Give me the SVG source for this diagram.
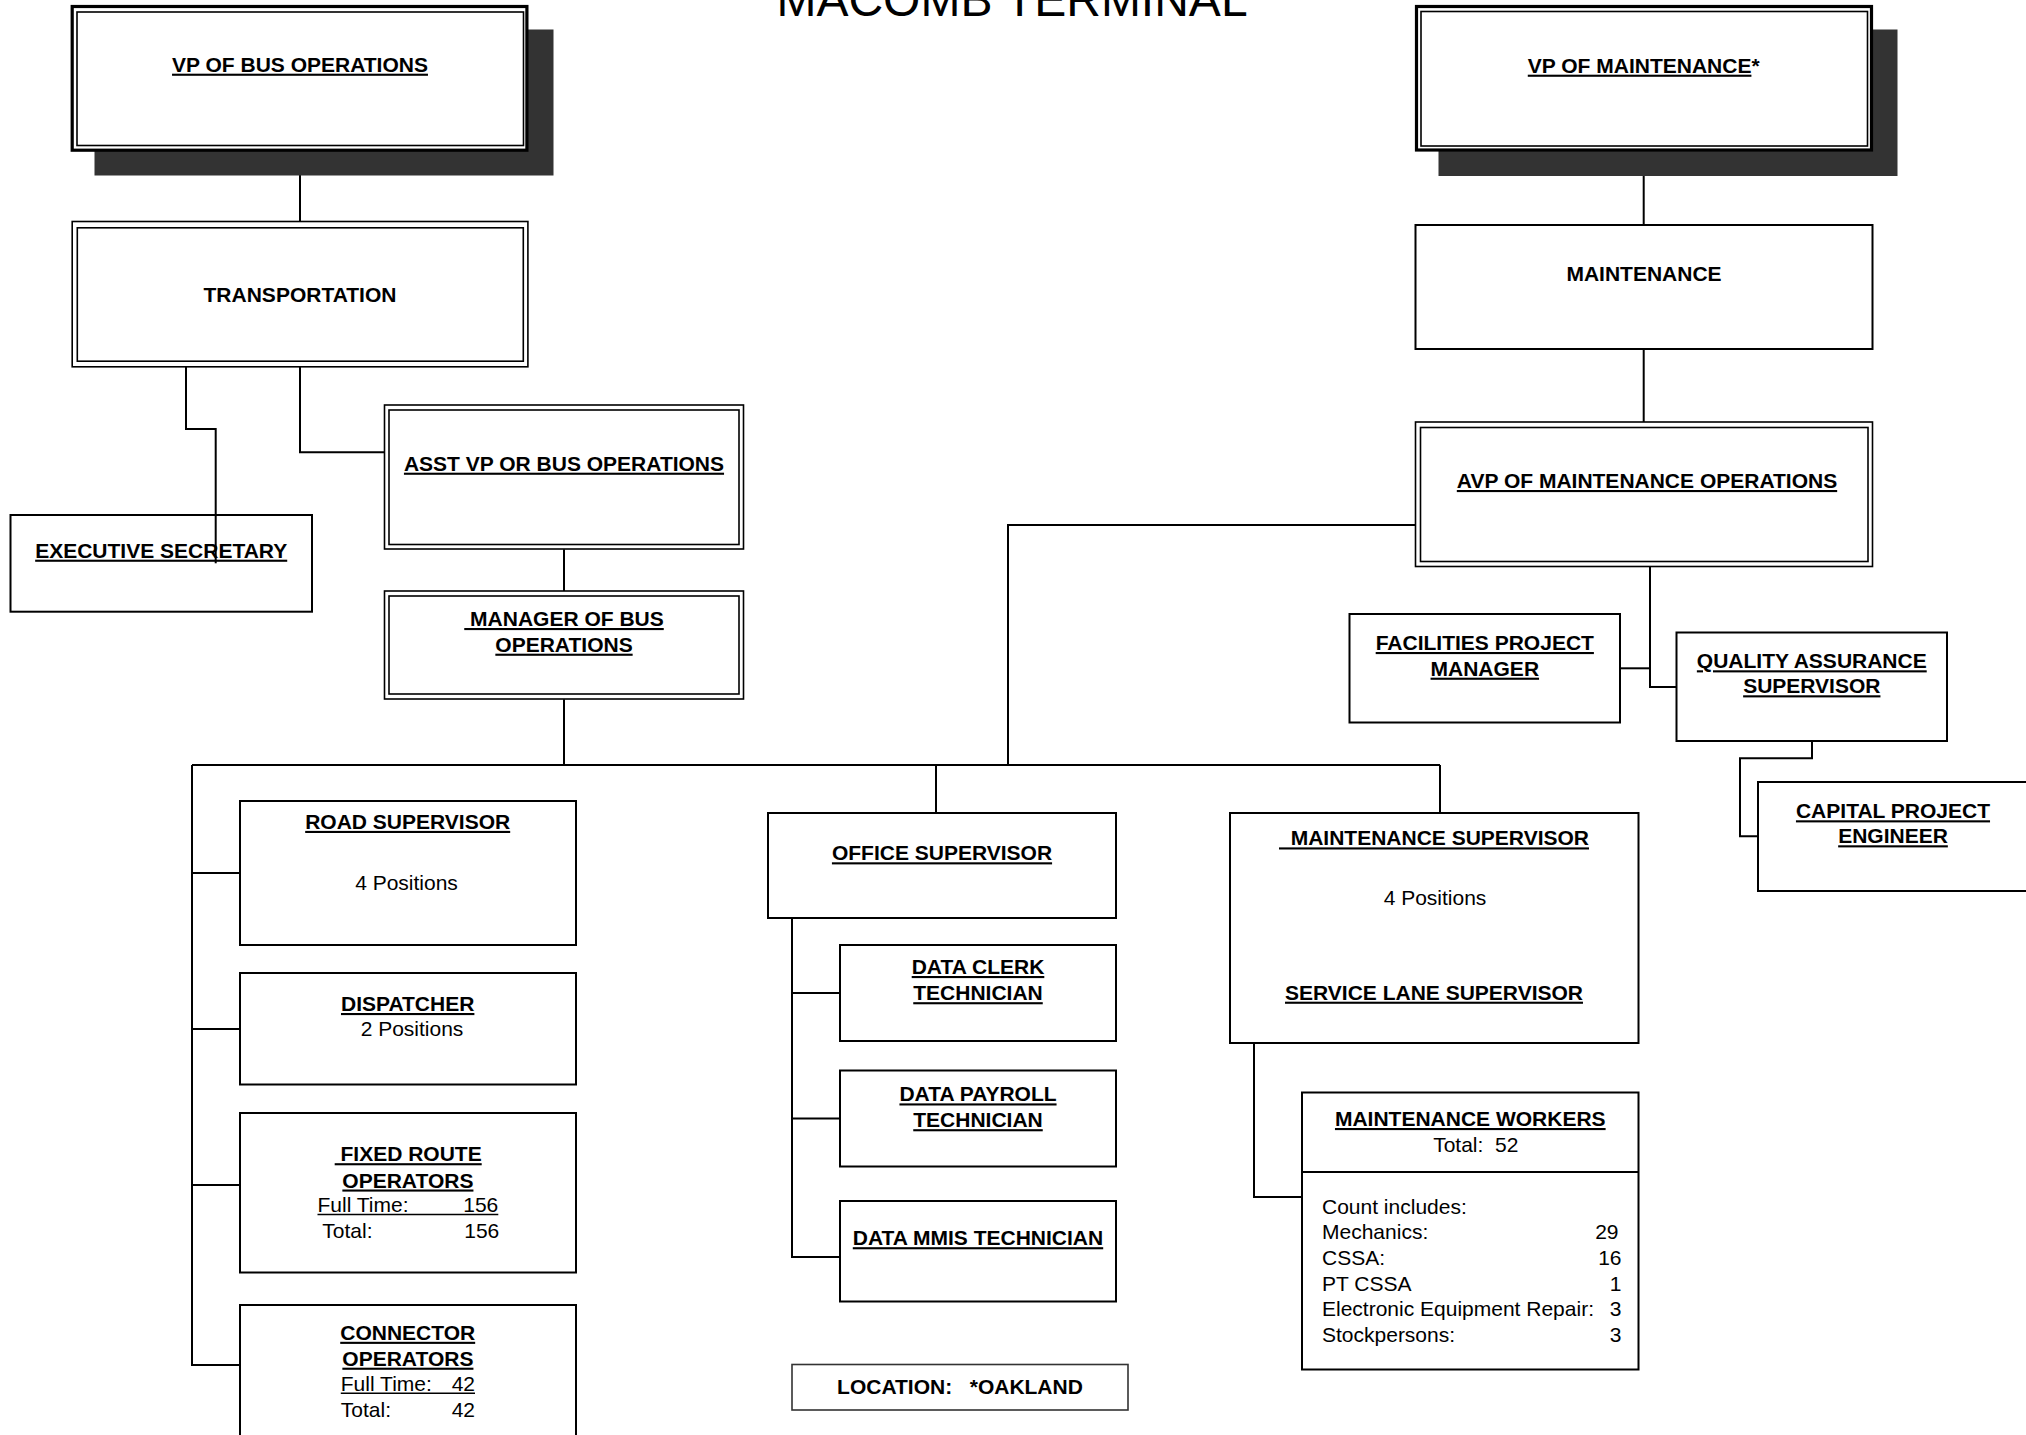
<svg xmlns="http://www.w3.org/2000/svg" width="2026" height="1435" viewBox="0 0 2026 1435">
  <style>
    .bg { fill: #ffffff; }
    .box { fill: #ffffff; stroke: #000; stroke-width: 2; }
    .outer { fill: #ffffff; stroke: #000; stroke-width: 1.6; }
    .inner { fill: none; stroke: #000; stroke-width: 1.6; }
    .thick { fill: #ffffff; stroke: #000; stroke-width: 3.2; }
    .shadow { fill: #333333; }
    .loc { fill: #ffffff; stroke: #333; stroke-width: 1.6; }
    .conn { fill: none; stroke: #000; stroke-width: 2; }
    .uline { stroke: #000; stroke-width: 1.5; }
    text { font-family: "Liberation Sans", Arial, sans-serif; font-size: 21px; fill: #000; }
    .h { font-weight: bold; text-anchor: middle; text-decoration: underline; white-space: pre; }
    .hb { font-weight: bold; text-anchor: middle; white-space: pre; }
    .n { text-anchor: middle; white-space: pre; }
    .l { white-space: pre; }
    .r { text-anchor: end; }
    .u { text-decoration: underline; }
    .title { font-size: 48px; text-anchor: middle; }
  </style>

  <rect class="bg" x="0" y="0" width="2026" height="1435"/>

  <text class="title" x="1012" y="16">MACOMB TERMINAL</text>

  <!-- reporting lines -->
  <g id="connectors">
    <path class="conn" d="M300,151.7 V221"/>
    <path class="conn" d="M186,362 V429 H215.7 V563.3"/>
    <path class="conn" d="M300,367 V452.3 H384"/>
    <path class="conn" d="M564,549.3 V591"/>
    <path class="conn" d="M564,699.3 V765"/>
    <path class="conn" d="M192,765 H1440"/>
    <path class="conn" d="M192,765 V1365 H240"/>
    <path class="conn" d="M192,873 H240 M192,1029 H240 M192,1185 H240"/>
    <path class="conn" d="M936,765 V813"/>
    <path class="conn" d="M1440,765 V813"/>
    <path class="conn" d="M1415.5,525 H1008 V765"/>
    <path class="conn" d="M792,918 V1257 H840 M792,993 H840 M792,1118.6 H840"/>
    <path class="conn" d="M1254,1043 V1197 H1302"/>
    <path class="conn" d="M1643.7,151.5 V225"/>
    <path class="conn" d="M1643.7,349 V422"/>
    <path class="conn" d="M1650,561.5 V687 H1676.5"/>
    <path class="conn" d="M1620,668.3 H1650"/>
    <path class="conn" d="M1812,741 V758.3 H1740 V836.3 H1758"/>
  </g>

  <g id="vp-bus-operations">
    <rect class="shadow" x="94.5" y="29.5" width="459" height="146"/>
    <rect class="thick" x="72.2" y="6.5" width="454.7" height="143.7"/>
    <rect class="inner" x="77" y="12" width="446.5" height="133.5"/>
    <text class="h" x="300" y="71.7">VP OF BUS OPERATIONS</text>
  </g>

  <g id="transportation">
    <rect class="outer" x="72.2" y="221.5" width="455.7" height="145.3"/>
    <rect class="inner" x="77.3" y="227.8" width="446" height="133.4"/>
    <text class="hb" x="300" y="301.7">TRANSPORTATION</text>
  </g>

  <g id="executive-secretary">
    <rect class="box" x="10.5" y="515" width="301.5" height="96.7"/>
    <text class="h" x="161.2" y="557.7">EXECUTIVE SECRETARY</text>
  </g>
  <!-- the secretary line is drawn across the box label -->
  <path class="conn" d="M215.7,515 V563.3"/>

  <g id="asst-vp-bus-operations">
    <rect class="outer" x="384.5" y="405" width="359" height="144"/>
    <rect class="inner" x="389" y="410" width="350" height="134.5"/>
    <text class="h" x="564" y="470.7">ASST VP OR BUS OPERATIONS</text>
  </g>

  <g id="manager-bus-operations">
    <rect class="outer" x="384.5" y="591" width="359" height="108"/>
    <rect class="inner" x="389" y="596" width="350" height="98"/>
    <text class="h" x="564" y="626"> MANAGER OF BUS</text>
    <text class="h" x="564" y="651.7">OPERATIONS</text>
  </g>

  <g id="road-supervisor">
    <rect class="box" x="240" y="801" width="336" height="144"/>
    <text class="h" x="407.7" y="828.9">ROAD SUPERVISOR</text>
    <text class="n" x="406.5" y="890.4">4 Positions</text>
  </g>

  <g id="dispatcher">
    <rect class="box" x="240" y="973" width="336" height="111.5"/>
    <text class="h" x="407.7" y="1011">DISPATCHER</text>
    <text class="n" x="412" y="1035.5">2 Positions</text>
  </g>

  <g id="fixed-route-operators">
    <rect class="box" x="240" y="1113" width="336" height="159.5"/>
    <text class="h" x="408.2" y="1161.2"> FIXED ROUTE</text>
    <text class="h" x="407.9" y="1187.5">OPERATORS</text>
    <text class="l" x="317.5" y="1212">Full Time:</text>
    <text class="r" x="498.3" y="1212">156</text>
    <line class="uline" x1="317.5" y1="1214.6" x2="498.3" y2="1214.6"/>
    <text class="l" x="322.3" y="1237.8">Total:</text>
    <text class="r" x="499.3" y="1237.8">156</text>
  </g>

  <g id="connector-operators">
    <rect class="box" x="240" y="1305" width="336" height="145"/>
    <text class="h" x="407.7" y="1339.8">CONNECTOR</text>
    <text class="h" x="407.9" y="1365.7">OPERATORS</text>
    <text class="l" x="340.8" y="1390.7">Full Time:</text>
    <text class="r" x="475" y="1390.7">42</text>
    <line class="uline" x1="340.8" y1="1393.3" x2="475" y2="1393.3"/>
    <text class="l" x="340.8" y="1416.5">Total:</text>
    <text class="r" x="475" y="1416.5">42</text>
  </g>

  <g id="office-supervisor">
    <rect class="box" x="768" y="813" width="348" height="105"/>
    <text class="h" x="942" y="860.3">OFFICE SUPERVISOR</text>
  </g>

  <g id="data-clerk-technician">
    <rect class="box" x="840" y="945" width="276" height="96"/>
    <text class="h" x="978" y="974">DATA CLERK</text>
    <text class="h" x="978" y="1000.2">TECHNICIAN</text>
  </g>

  <g id="data-payroll-technician">
    <rect class="box" x="840" y="1070.5" width="276" height="96"/>
    <text class="h" x="978" y="1101.4">DATA PAYROLL</text>
    <text class="h" x="978" y="1127.2">TECHNICIAN</text>
  </g>

  <g id="data-mmis-technician">
    <rect class="box" x="840" y="1201" width="276" height="100.5"/>
    <text class="h" x="978" y="1245.2">DATA MMIS TECHNICIAN</text>
  </g>

  <g id="location">
    <rect class="loc" x="792" y="1364.5" width="336" height="45.5"/>
    <text class="hb" x="960" y="1393.7">LOCATION:   *OAKLAND</text>
  </g>

  <g id="maintenance-supervisor">
    <rect class="box" x="1230" y="813" width="408.5" height="230"/>
    <text class="h" x="1434" y="845.4">  MAINTENANCE SUPERVISOR</text>
    <text class="n" x="1435" y="905.3">4 Positions</text>
    <text class="h" x="1434" y="999.7">SERVICE LANE SUPERVISOR</text>
  </g>

  <g id="maintenance-workers">
    <rect class="box" x="1302" y="1092.5" width="336.5" height="277"/>
    <line class="conn" x1="1302" y1="1172" x2="1638.5" y2="1172"/>
    <text class="h" x="1470.3" y="1126">MAINTENANCE WORKERS</text>
    <text class="n" x="1475.8" y="1152.4">Total:  52</text>
    <text class="l" x="1322" y="1213.9">Count includes:</text>
    <text class="l" x="1322" y="1239.4">Mechanics:</text>
    <text class="r" x="1618.5" y="1239.4">29</text>
    <text class="l" x="1322" y="1265">CSSA:</text>
    <text class="r" x="1621.5" y="1265">16</text>
    <text class="l" x="1322" y="1290.5">PT CSSA</text>
    <text class="r" x="1621.5" y="1290.5">1</text>
    <text class="l" x="1322" y="1316">Electronic Equipment Repair:</text>
    <text class="r" x="1621.5" y="1316">3</text>
    <text class="l" x="1322" y="1341.9">Stockpersons:</text>
    <text class="r" x="1621.5" y="1341.9">3</text>
  </g>

  <g id="vp-maintenance">
    <rect class="shadow" x="1438.5" y="29.5" width="459" height="146.5"/>
    <rect class="thick" x="1416.5" y="6.5" width="455" height="143.5"/>
    <rect class="inner" x="1421" y="11.5" width="446.5" height="134.5"/>
    <text class="hb" x="1643.7" y="72.7"><tspan class="u">VP OF MAINTENANCE</tspan>*</text>
  </g>

  <g id="maintenance">
    <rect class="box" x="1415.5" y="225" width="457" height="124"/>
    <text class="hb" x="1644" y="281.3">MAINTENANCE</text>
  </g>

  <g id="avp-maintenance-operations">
    <rect class="outer" x="1415.5" y="422" width="457" height="144.5"/>
    <rect class="inner" x="1420.5" y="427.5" width="447.5" height="134"/>
    <text class="h" x="1647" y="488">AVP OF MAINTENANCE OPERATIONS</text>
  </g>

  <g id="facilities-project-manager">
    <rect class="box" x="1349.5" y="614" width="270.5" height="108.5"/>
    <text class="h" x="1484.8" y="650">FACILITIES PROJECT</text>
    <text class="h" x="1484.8" y="675.7">MANAGER</text>
  </g>

  <g id="quality-assurance-supervisor">
    <rect class="box" x="1676.5" y="632.5" width="270.5" height="108.5"/>
    <text class="h" x="1811.8" y="668.3">QUALITY ASSURANCE</text>
    <text class="h" x="1811.8" y="693.3">SUPERVISOR</text>
  </g>

  <g id="capital-project-engineer">
    <rect class="box" x="1758" y="782" width="280" height="109"/>
    <text class="h" x="1893" y="818.3">CAPITAL PROJECT</text>
    <text class="h" x="1893" y="843.3">ENGINEER</text>
  </g>
</svg>
